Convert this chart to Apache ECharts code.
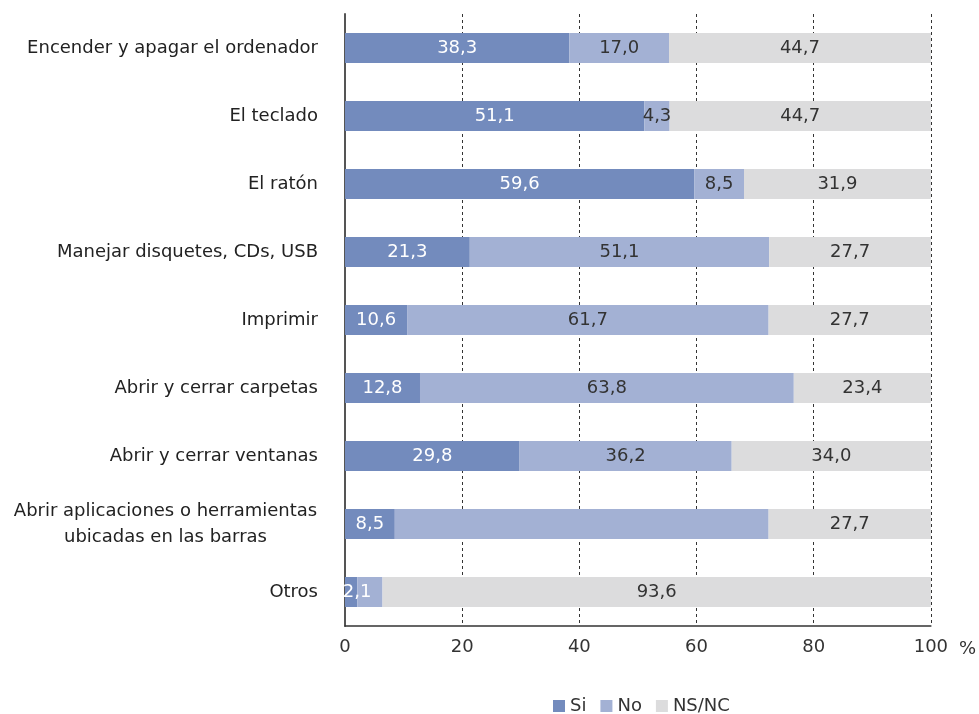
<!DOCTYPE html>
<html>
<head>
<meta charset="utf-8">
<script src="https://cdn.jsdelivr.net/npm/echarts@6/dist/echarts.min.js"></script>
<style>
  html, body { margin: 0; padding: 0; background: #fff; }
  #chart { width: 979px; height: 714px; }
</style>
</head>
<body>
<div id="chart"></div>
<script>
// categorias (de arriba a abajo)
var categorias = [
  'Encender y apagar el ordenador',
  'El teclado',
  'El ratón',
  'Manejar disquetes, CDs, USB',
  'Imprimir',
  'Abrir y cerrar carpetas',
  'Abrir y cerrar ventanas',
  'Abrir aplicaciones o herramientas\nubicadas en las barras',
  'Otros'
];
var si   = [38.3, 51.1, 59.6, 21.3, 10.6, 12.8, 29.8, 8.5, 2.1];
var no   = [17.0, 4.3, 8.5, 51.1, 61.7, 63.8, 36.2, 63.8, 4.3];
var nsnc = [44.7, 44.7, 31.9, 27.7, 27.7, 23.4, 34.0, 27.7, 93.6];
var ticks = [0, 20, 40, 60, 80, 100];

var fuente = 'DejaVu Sans, Verdana, sans-serif';
var tam = 18;

function fmt(v) {
  return v.toFixed(1).replace('.', ',');
}

var myChart = echarts.init(document.getElementById('chart'));

// en el original no se ven las etiquetas de "No" en las dos ultimas filas
var noData = no.map(function (v, i) {
  if (i >= 7) return { value: v, label: { show: false } };
  return v;
});
var siData = si.map(function (v, i) {
  if (i === 8) return { value: v, label: { offset: [6, 0] } };
  return v;
});

var option = {
  animation: false,
  textStyle: { fontFamily: fuente },
  color: ['#738bbd', '#a3b1d4', '#dcdcdd'],
  grid: { left: 345, right: 48, top: 14, bottom: 88, containLabel: false },
  legend: {
    top: 692,
    left: 548,
    icon: 'rect',
    itemWidth: 12,
    itemHeight: 12,
    itemGap: 14,
    textStyle: { fontFamily: fuente, fontSize: tam, color: '#333' },
    data: ['Si', 'No', 'NS/NC']
  },
  xAxis: {
    type: 'value',
    min: ticks[0],
    max: ticks[ticks.length - 1],
    interval: 20,
    name: '%',
    nameLocation: 'end',
    nameGap: 28,
    nameTextStyle: { fontFamily: fuente, fontSize: tam, color: '#333', verticalAlign: 'top', padding: [14, 0, 0, 0] },
    axisLine: { show: true, lineStyle: { color: '#333', width: 1.5 } },
    axisTick: { show: false },
    axisLabel: { fontFamily: fuente, fontSize: tam, color: '#333', margin: 12 },
    splitLine: { show: true, lineStyle: { color: '#333', type: [3, 3], width: 1 } }
  },
  yAxis: {
    type: 'category',
    inverse: true,
    data: categorias,
    axisLine: { show: true, lineStyle: { color: '#555', width: 2 } },
    axisTick: { show: false },
    axisLabel: {
      fontFamily: fuente,
      fontSize: tam,
      color: '#222',
      margin: 27,
      lineHeight: 26,
      formatter: function (v) {
        if (v.indexOf('\n') >= 0) {
          var p = v.split('\n');
          return '{c|' + p[0] + '}\n{c|' + p[1] + '}';
        }
        return v;
      },
      rich: {
        c: { width: 305, align: 'center', fontFamily: fuente, fontSize: tam, color: '#222', lineHeight: 26 }
      }
    }
  },
  series: [
    {
      name: 'Si', type: 'bar', stack: 'total', barWidth: 30,
      label: { show: true, position: 'inside', color: '#fff', fontSize: tam, fontFamily: fuente,
        formatter: function (p) { return fmt(p.value); } },
      data: siData
    },
    {
      name: 'No', type: 'bar', stack: 'total', barWidth: 30,
      label: { show: true, position: 'inside', color: '#333', fontSize: tam, fontFamily: fuente,
        formatter: function (p) { return fmt(p.value); } },
      data: noData
    },
    {
      name: 'NS/NC', type: 'bar', stack: 'total', barWidth: 30,
      label: { show: true, position: 'inside', color: '#333', fontSize: tam, fontFamily: fuente,
        formatter: function (p) { return fmt(p.value); } },
      data: nsnc
    }
  ]
};

myChart.setOption(option);
</script>
</body>
</html>
